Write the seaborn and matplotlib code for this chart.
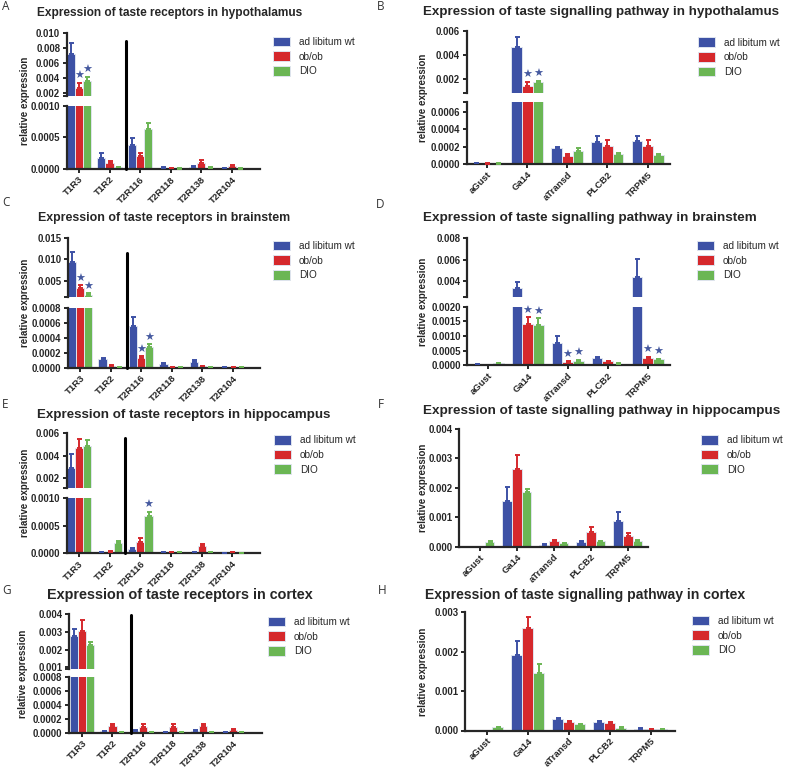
import matplotlib
matplotlib.use("Agg")
import matplotlib.pyplot as plt
import matplotlib.transforms as mtransforms
from matplotlib.lines import Line2D
from matplotlib.patches import Patch
from matplotlib.ticker import FormatStrFormatter
import numpy as np
import pandas as pd
import seaborn as sns

RECEPTORS = ["T1R3", "T1R2", "T2R116", "T2R118", "T2R138", "T2R104"]
PATHWAY = ["aGust", "Ga14", "aTransd", "PLCB2", "TRPM5"]
GROUPS = ["ad libitum wt", "ob/ob", "DIO"]
COLORS = ["#3d51a5", "#d5282c", "#6bb654"]
STAR_COLOR = "#45599f"

# A - taste receptors, hypothalamus (mean, sem)
a_wt = [0.0072, 0.00017, 0.00038, 0.00002, 0.00003, 0.00001]
a_wt_sem = [0.0014, 0.00008, 0.00011, 0.00001, 0.00001, 0.000005]
a_ob = [0.0027, 0.0001, 0.00021, 0.00001, 0.0001, 0.00005]
a_ob_sem = [0.0007, 0.00003, 0.00005, 0.000005, 0.00004, 0.00002]
a_dio = [0.0036, 0.00003, 0.00063, 0.000005, 0.00002, 0.000005]
a_dio_sem = [0.0006, 0.000005, 0.0001, 0.000003, 0.000005, 0.000003]
a_stars = [(0, 1), (0, 2)]

# B - signalling pathway, hypothalamus
b_wt = [0.00001, 0.00465, 0.00018, 0.00025, 0.00026]
b_wt_sem = [0.000005, 0.00085, 0.00001, 0.00007, 0.00006]
b_ob = [0.000005, 0.0014, 0.00009, 0.00021, 0.00021]
b_ob_sem = [0.000003, 0.00035, 0.00002, 0.00007, 0.00007]
b_dio = [0.000005, 0.0017, 0.00015, 0.00011, 0.0001]
b_dio_sem = [0.000003, 0.00012, 0.00003, 0.00002, 0.00001]
b_stars = [(1, 1), (1, 2)]

# C - taste receptors, brainstem
c_wt = [0.0094, 0.00011, 0.00056, 0.00005, 0.00008, 0.00001]
c_wt_sem = [0.0024, 0.00002, 0.00011, 0.00001, 0.00002, 0.000005]
c_ob = [0.0032, 0.00002, 0.00013, 0.00001, 0.00002, 0.00001]
c_ob_sem = [0.0007, 0.00001, 0.00002, 0.000005, 0.000005, 0.000005]
c_dio = [0.0017, 0.00001, 0.00028, 0.000005, 0.00001, 0.000005]
c_dio_sem = [0.0003, 0.000005, 0.00003, 0.000003, 0.000003, 0.000003]
c_stars = [(0, 1), (0, 2), (2, 1), (2, 2)]

# D - signalling pathway, brainstem
d_wt = [0.00003, 0.0033, 0.00077, 0.00025, 0.00435]
d_wt_sem = [0.000005, 0.0006, 0.00023, 0.00005, 0.00175]
d_ob = [0.0, 0.00142, 0.00012, 0.00015, 0.00024]
d_ob_sem = [0.0, 0.00022, 0.00002, 0.00001, 0.00004]
d_dio = [0.00008, 0.00139, 0.00016, 0.00006, 0.0002]
d_dio_sem = [0.000005, 0.00021, 0.00002, 0.000005, 0.00002]
d_stars = [(1, 1), (1, 2), (2, 1), (2, 2), (4, 1), (4, 2)]

# E - taste receptors, hippocampus
e_wt = [0.0029, 0.00002, 0.00007, 0.00002, 0.00002, 0.00001]
e_wt_sem = [0.0012, 0.000005, 0.00003, 0.000005, 0.000005, 0.000003]
e_ob = [0.0047, 0.00003, 0.0002, 0.00002, 0.00013, 0.00002]
e_ob_sem = [0.0008, 0.000005, 0.00007, 0.000005, 0.00003, 0.000005]
e_dio = [0.00486, 0.00018, 0.00068, 0.00002, 0.00002, 0.00001]
e_dio_sem = [0.00055, 0.00004, 0.00007, 0.000005, 0.000005, 0.000003]
e_stars = [(2, 2)]

# F - signalling pathway, hippocampus
f_wt = [0.0, 0.00156, 0.00007, 0.00015, 0.00088]
f_wt_sem = [0.0, 0.00047, 0.00001, 0.00005, 0.00031]
f_ob = [0.0, 0.00264, 0.0002, 0.0005, 0.00037]
f_ob_sem = [0.0, 0.00046, 0.00002, 0.00018, 0.0001]
f_dio = [0.00017, 0.00186, 0.00012, 0.00018, 0.00021]
f_dio_sem = [0.00002, 0.00008, 0.00001, 0.00002, 0.00002]

# G - taste receptors, cortex
g_wt = [0.00276, 0.00002, 0.00003, 0.00001, 0.00003, 0.00001]
g_wt_sem = [0.00038, 0.000005, 0.000005, 0.000005, 0.000005, 0.000003]
g_ob = [0.00306, 0.00009, 0.00008, 0.00008, 0.0001, 0.00004]
g_ob_sem = [0.0006, 0.00004, 0.00004, 0.00005, 0.00002, 0.00002]
g_dio = [0.00228, 0.00001, 0.00001, 0.000005, 0.000005, 0.000005]
g_dio_sem = [0.00012, 0.000003, 0.000003, 0.000003, 0.000003, 0.000003]

# H - signalling pathway, cortex
h_wt = [0.0, 0.00192, 0.0003, 0.00021, 0.00005]
h_wt_sem = [0.0, 0.00036, 0.00002, 0.00002, 0.000005]
h_ob = [0.0, 0.0026, 0.00022, 0.0002, 0.00003]
h_ob_sem = [0.0, 0.00027, 0.00002, 0.00002, 0.000005]
h_dio = [0.00009, 0.00147, 0.00016, 0.00007, 0.00004]
h_dio_sem = [0.00001, 0.00023, 0.00001, 0.00001, 0.000005]

sns.set_style("ticks")
plt.rcParams["font.family"] = ["Liberation Sans", "DejaVu Sans"]
plt.rcParams["font.weight"] = "bold"
plt.rcParams["axes.linewidth"] = 1.6

W, H = 787, 769
fig = plt.figure(figsize=(W / 100, H / 100), dpi=100)


def axes_px(left, top, right, bottom):
    return fig.add_axes([left / W, 1 - bottom / H, (right - left) / W, (bottom - top) / H])


def draw_bars(ax, cats, vals, sems, stars):
    df = pd.DataFrame({
        "gene": np.tile(cats, 3),
        "group": np.repeat(GROUPS, len(cats)),
        "value": np.concatenate(vals),
    })
    sns.barplot(data=df, x="gene", y="value", hue="group", order=cats,
                hue_order=GROUPS, palette=COLORS, saturation=1, errorbar=None,
                width=0.8, edgecolor="#dfe4ef", linewidth=0.7, legend=False, ax=ax)
    bar_sets = list(ax.containers)[:3]
    for gi, cont in enumerate(bar_sets):
        for bar in cont:
            x = bar.get_x() + bar.get_width() / 2
            ci = int(round(x))
            top = bar.get_height()
            s = sems[gi][ci]
            if s > 0:
                ax.errorbar(x, top, yerr=[[0], [s]], fmt="none", ecolor=COLORS[gi],
                            elinewidth=1.4, capsize=1.8, capthick=1.4, zorder=3)
            if (ci, gi) in stars:
                ax.annotate("★", xy=(x, top + s), xytext=(0, 1.2),
                            textcoords="offset points", ha="center", va="bottom",
                            color=STAR_COLOR, fontsize=8, fontweight="normal")
    ax.set_xlabel("")
    ax.set_ylabel("")


def style_axis(ax, cats, xlim, ylim, yticks, fmt, show_x):
    ax.set_xlim(*xlim)
    ax.set_ylim(*ylim)
    ax.set_yticks(yticks)
    ax.yaxis.set_major_formatter(FormatStrFormatter(fmt))
    sns.despine(ax=ax, bottom=not show_x)
    ax.tick_params(axis="y", which="both", length=3.2, width=1.4,
                   labelsize=6.9, pad=1.5, direction="out")
    if show_x:
        ax.set_xticks(range(len(cats)))
        ax.set_xticklabels(cats, rotation=45, ha="right", rotation_mode="anchor",
                           fontsize=6.8, fontweight="bold")
        ax.tick_params(axis="x", length=3, width=1.4, pad=1.2)
    else:
        ax.tick_params(axis="x", bottom=False, labelbottom=False)


def add_legend(ax, left_px, row_px):
    handles = [Patch(facecolor=c, edgecolor="#dfe4ef", linewidth=0.7) for c in COLORS]
    ax.legend(handles, GROUPS, loc="upper left",
              bbox_to_anchor=(left_px / W, 1 - (row_px - 6) / H),
              bbox_transform=fig.transFigure, frameon=False, borderpad=0,
              borderaxespad=0, handlelength=1.7, handleheight=1.1,
              handletextpad=0.9, labelspacing=0.45,
              prop={"size": 7.2, "weight": "normal"})


def header(letter, lx, ly, title, tx, ty, tsize):
    fig.text(lx / W, 1 - ly / H, letter, ha="left", va="center", fontsize=8.5,
             fontweight="normal", family=["Open Sans", "DejaVu Sans"], color="#333333")
    fig.text(tx / W, 1 - ty / H, title, ha="left", va="center", fontsize=tsize,
             fontweight="bold")


def ylabel(x_px, top_px, bottom_px):
    fig.text(x_px / W, 1 - (top_px + bottom_px) / 2 / H, "relative expression",
             rotation=90, ha="center", va="center", fontsize=7, fontweight="bold")


def broken_panel(cats, vals, sems, stars, box, xlim, up, lo, sep=None, legend=None):
    left, right = box
    (u_top, u_bot, u_lim, u_ticks, u_fmt) = up
    (l_top, l_bot, l_lim, l_ticks, l_fmt) = lo
    ax_up = axes_px(left, u_top, right, u_bot)
    ax_lo = axes_px(left, l_top, right, l_bot)
    for ax in (ax_up, ax_lo):
        draw_bars(ax, cats, vals, sems, stars)
    style_axis(ax_up, cats, xlim, u_lim, u_ticks, u_fmt, show_x=False)
    style_axis(ax_lo, cats, xlim, l_lim, l_ticks, l_fmt, show_x=True)
    ax_up.set_yticks([u_lim[0]], minor=True)
    ax_lo.set_yticks([l_lim[1]], minor=True)
    if sep is not None:
        xpos, top_px = sep
        tr = mtransforms.blended_transform_factory(ax_lo.transData, fig.transFigure)
        fig.add_artist(Line2D([xpos, xpos], [1 - l_bot / H, 1 - top_px / H],
                              transform=tr, color="black", lw=2.2))
    if legend is not None:
        add_legend(ax_up, *legend)
    return ax_up, ax_lo


def single_panel(cats, vals, sems, stars, box, xlim, ylim, yticks, legend):
    left, top, right, bottom = box
    ax = axes_px(left, top, right, bottom)
    draw_bars(ax, cats, vals, sems, stars)
    style_axis(ax, cats, xlim, ylim, yticks, "%.3f", show_x=True)
    add_legend(ax, *legend)
    return ax


# ---- A ----
header("A", 2, 7, "Expression of taste receptors in hypothalamus", 37, 13, 8.6)
broken_panel(RECEPTORS, [a_wt, a_ob, a_dio], [a_wt_sem, a_ob_sem, a_dio_sem], a_stars,
             (66.7, 259.5), (-0.4, 5.9),
             (32.7, 95.7, (0.0017, 0.010), [0.002, 0.004, 0.006, 0.008, 0.010], "%.3f"),
             (106, 169, (0, 0.001), [0, 0.0005, 0.001], "%.4f"),
             sep=(1.55, 40.7), legend=(273, 42.7))
ylabel(25, 32.7, 169)

# ---- B ----
header("B", 377, 7, "Expression of taste signalling pathway in hypothalamus", 423, 12, 9.6)
broken_panel(PATHWAY, [b_wt, b_ob, b_dio], [b_wt_sem, b_ob_sem, b_dio_sem], b_stars,
             (466.7, 670), (-0.51, 4.56),
             (31, 92.7, (0.00082, 0.006), [0.002, 0.004, 0.006], "%.3f"),
             (102.3, 164, (0, 0.00071), [0, 0.0002, 0.0004, 0.0006], "%.4f"),
             legend=(698, 43.3))
ylabel(423, 31, 164)

# ---- C ----
header("C", 2, 203, "Expression of taste receptors in brainstem", 38, 218, 8.9)
broken_panel(RECEPTORS, [c_wt, c_ob, c_dio], [c_wt_sem, c_ob_sem, c_dio_sem], c_stars,
             (68, 260), (-0.4, 5.9),
             (238.3, 297.3, (0.00108, 0.015), [0.005, 0.010, 0.015], "%.3f"),
             (307.7, 367.7, (0, 0.0008), [0, 0.0002, 0.0004, 0.0006, 0.0008], "%.4f"),
             sep=(1.55, 252.7), legend=(273, 246.7))
ylabel(25, 238.3, 367.7)

# ---- D ----
header("D", 376, 204, "Expression of taste signalling pathway in brainstem", 423, 218.3, 9.7)
broken_panel(PATHWAY, [d_wt, d_ob, d_dio], [d_wt_sem, d_ob_sem, d_dio_sem], d_stars,
             (467.3, 670), (-0.51, 4.56),
             (238.3, 297.3, (0.00247, 0.008), [0.004, 0.006, 0.008], "%.3f"),
             (306.7, 365.3, (0, 0.002), [0, 0.0005, 0.001, 0.0015, 0.002], "%.4f"),
             legend=(697, 246.7))
ylabel(423, 238.3, 365.3)

# ---- E ----
header("E", 2, 404.5, "Expression of taste receptors in hippocampus", 37, 415, 9.6)
broken_panel(RECEPTORS, [e_wt, e_ob, e_dio], [e_wt_sem, e_ob_sem, e_dio_sem], e_stars,
             (66.7, 260), (-0.4, 5.9),
             (433.3, 488.3, (0.00105, 0.006), [0.002, 0.004, 0.006], "%.3f"),
             (498, 553.3, (0, 0.001), [0, 0.0005, 0.001], "%.4f"),
             sep=(1.5, 437.7), legend=(274, 441))
ylabel(25, 433.3, 553.3)

# ---- F ----
header("F", 378, 404.5, "Expression of taste signalling pathway in hippocampus", 423, 410.7, 9.7)
single_panel(PATHWAY, [f_wt, f_ob, f_dio], [f_wt_sem, f_ob_sem, f_dio_sem], [],
             (459, 428.7, 648.3, 546.7), (-0.56, 4.56), (0, 0.004),
             [0, 0.001, 0.002, 0.003, 0.004], legend=(700.7, 441))
ylabel(423, 428.7, 546.7)

# ---- G ----
header("G", 2, 590.5, "Expression of taste receptors in cortex", 47, 595, 10.4)
broken_panel(RECEPTORS, [g_wt, g_ob, g_dio], [g_wt_sem, g_ob_sem, g_dio_sem], [],
             (69, 261.7), (-0.44, 5.94),
             (614, 669.3, (0.00089, 0.004), [0.001, 0.002, 0.003, 0.004], "%.3f"),
             (677.3, 732.7, (0, 0.0008), [0, 0.0002, 0.0004, 0.0006, 0.0008], "%.4f"),
             sep=(1.6, 615), legend=(268, 622.7))
ylabel(23, 614, 732.7)

# ---- H ----
header("H", 378, 590.5, "Expression of taste signalling pathway in cortex", 425, 595, 10.1)
single_panel(PATHWAY, [h_wt, h_ob, h_dio], [h_wt_sem, h_ob_sem, h_dio_sem], [],
             (465, 612.3, 675, 730.5), (-0.53, 4.59), (0, 0.003),
             [0, 0.001, 0.002, 0.003], legend=(691.7, 621.7))
ylabel(423, 612.3, 730.5)

fig.savefig("out.png", dpi=100)
plt.close(fig)
